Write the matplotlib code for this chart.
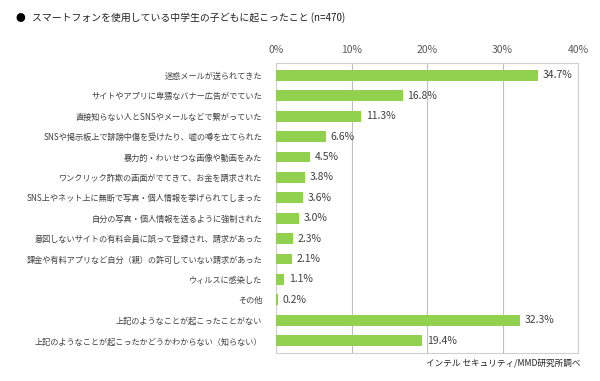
import matplotlib
matplotlib.use('Agg')
from matplotlib import pyplot as plt

plt.rcParams['font.family'] = ['Noto Sans CJK JP', 'DejaVu Sans']

labels = [
    '迷惑メールが送られてきた',
    'サイトやアプリに卑猥なバナー広告がでていた',
    '直接知らない人とSNSやメールなどで繋がっていた',
    'SNSや掲示板上で誹謗中傷を受けたり、嘘の噂を立てられた',
    '暴力的・わいせつな画像や動画をみた',
    'ワンクリック詐欺の画面がでてきて、お金を請求された',
    'SNS上やネット上に無断で写真・個人情報を挙げられてしまった',
    '自分の写真・個人情報を送るように強制された',
    '意図しないサイトの有料会員に誤って登録され、請求があった',
    '課金や有料アプリなど自分（親）の許可していない請求があった',
    'ウィルスに感染した',
    'その他',
    '上記のようなことが起こったことがない',
    '上記のようなことが起こったかどうかわからない（知らない）',
]
values = [34.7, 16.8, 11.3, 6.6, 4.5, 3.8, 3.6, 3.0, 2.3, 2.1, 1.1, 0.2, 32.3, 19.4]
xticks = [0, 10, 20, 30, 40]

fig = plt.figure(figsize=(6.0, 3.81), dpi=100)
ax = fig.add_axes([276 / 600, 1 - 353 / 381, 302 / 600, 290 / 381])

ypos = list(range(len(values)))
ax.barh(ypos, values, height=0.53, color='#92D050', zorder=3)
for y, v in zip(ypos, values):
    ax.text(v + 0.6, y, f'{v}%', va='center', ha='left', fontsize=7.5, color='#404040', zorder=4)

ax.set_xlim(0, 40)
ax.set_ylim(13.6, -0.6)
ax.set_xticks(xticks)
ax.set_xticklabels([f'{t}%' for t in xticks])
ax.xaxis.tick_top()
ax.tick_params(axis='x', length=0, pad=6, labelsize=7.5, labelcolor='#595959')
ax.set_yticks(ypos)
ax.set_yticklabels(labels)
ax.tick_params(axis='y', length=0, pad=10, labelsize=5.9, labelcolor='#404040')
ax.grid(axis='x', color='#BFBFBF', linewidth=0.8, zorder=0)
for s in ax.spines.values():
    s.set_color('#D0D0D0')
    s.set_linewidth(0.8)

fig.text(15 / 600, 1 - 18 / 381, '●', fontsize=7, va='center', ha='left', color='black')
fig.text(32 / 600, 1 - 18 / 381, 'スマートフォンを使用している中学生の子どもに起こったこと (n=470)',
         fontsize=7.1, va='center', ha='left', color='#202020')
fig.text(580 / 600, 1 - 363 / 381, 'インテル セキュリティ/MMD研究所調べ',
         fontsize=6.2, va='center', ha='right', color='#202020')

fig.savefig('out.png', dpi=100)
